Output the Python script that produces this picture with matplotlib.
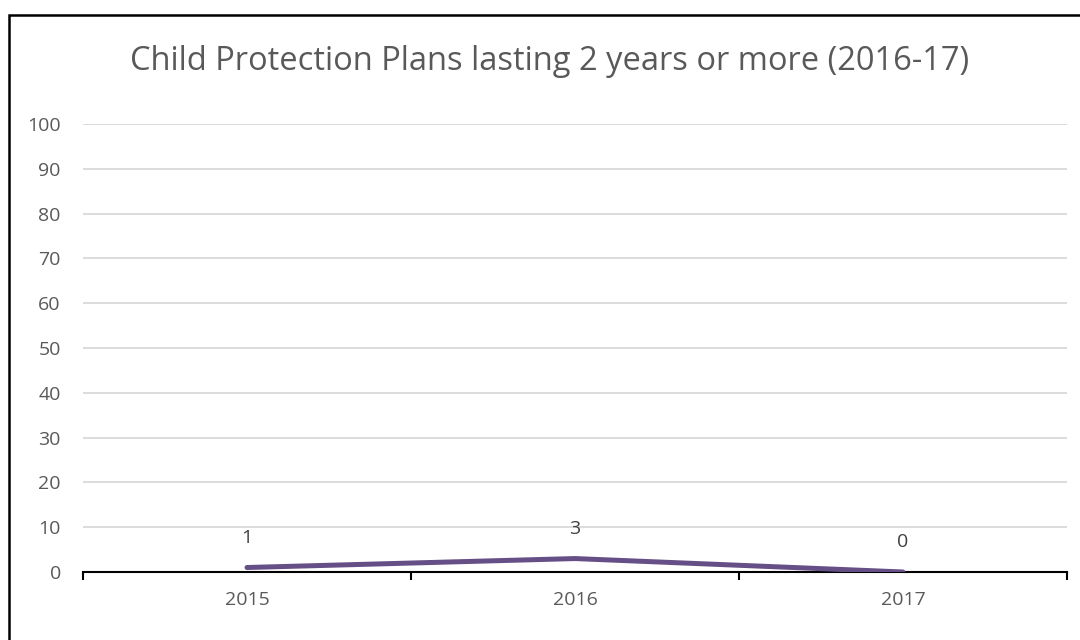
import matplotlib
matplotlib.use('Agg')
import matplotlib.pyplot as plt
from matplotlib.patches import Rectangle

# Data
years = ['2015', '2016', '2017']
plans = [1, 3, 0]
y_ticks = list(range(0, 101, 10))

plt.rcParams['font.family'] = ['Open Sans', 'DejaVu Sans']

fig = plt.figure(figsize=(10.8, 6.4), dpi=100)
ax = fig.add_axes([83 / 1080, 1 - 572 / 640, (1067 - 83) / 1080, (572 - 124) / 640])

x = list(range(len(years)))
ax.plot(x, plans, color='#664f86', linewidth=3.6, solid_capstyle='round', zorder=3)
for xi, v in zip(x, plans):
    ax.annotate(str(v), (xi, v), xytext=(0, 15), textcoords='offset points',
                ha='center', va='bottom', fontsize=14, color='#404040')

ax.set_xlim(-0.5, len(years) - 0.5)
ax.set_ylim(0, 100)
ax.set_yticks(y_ticks)
ax.set_xticks(x)
ax.set_xticklabels(years)
ax.set_xticks([i - 0.5 for i in range(len(years) + 1)], minor=True)
ax.tick_params(axis='x', which='major', length=0, pad=14, labelsize=14, labelcolor='#595959')
ax.tick_params(axis='x', which='minor', length=6, width=1.5, color='black')
ax.tick_params(axis='y', length=0, pad=16, labelsize=14, labelcolor='#595959')
ax.grid(axis='y', color='#d9d9d9', linewidth=1.3)
ax.set_axisbelow(True)
for side in ['top', 'right', 'left']:
    ax.spines[side].set_visible(False)
ax.spines['bottom'].set_color('black')
ax.spines['bottom'].set_linewidth(1.5)

fig.text(550 / 1080, 1 - 62 / 640, 'Child Protection Plans lasting 2 years or more (2016-17)',
         ha='center', va='center', fontsize=23.5, color='#595959')

# Outer chart border
fig.patches.append(Rectangle((9 / 1080, -0.05), 1.1, 1 - 15 / 640 + 0.05,
                             transform=fig.transFigure, fill=False,
                             edgecolor='black', linewidth=1.8))

fig.savefig('out.png', dpi=100)
